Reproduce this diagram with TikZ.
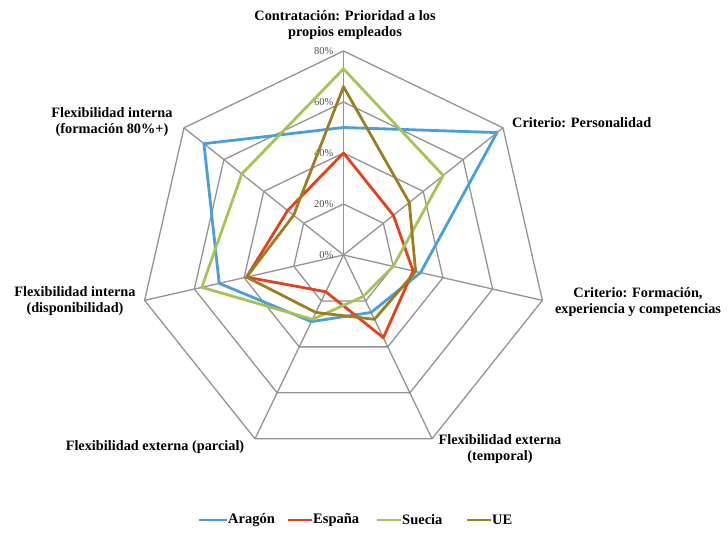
\documentclass[tikz,border=0pt]{standalone}
\usepackage{fontspec}
\setmainfont{Liberation Serif}
\usepackage{tikz}
\usepackage{xcolor}

\definecolor{colAragon}{HTML}{4A9FDB}
\definecolor{colEspana}{HTML}{E2431E}
\definecolor{colSuecia}{HTML}{A8C257}
\definecolor{colUE}{HTML}{9C7E22}

\begin{document}
\begin{tikzpicture}[x=1pt,y=1pt,
    grid/.style={draw=gray!85, line width=1.3pt},
    serie/.style={line width=2.8pt, line join=round},
    lbl/.style={font=\fontsize{14.3}{16}\selectfont\bfseries, align=center, inner sep=0pt},
    pct/.style={font=\fontsize{10.5}{12}\selectfont, text=gray!60!black, anchor=east, inner sep=0pt},
    legtxt/.style={font=\fontsize{14.5}{16}\selectfont\bfseries, anchor=west, inner sep=1pt}]
  \useasboundingbox (0,0) rectangle (728,533);
  \begin{scope}[shift={(343.5,278)}]
    % grid
    \foreach \r in {1,...,4}
      \draw[grid] (90:\r*51) \foreach \k in {1,...,6} { -- ({90-\k*360/7}:\r*51) } -- cycle;
    \foreach \k in {0,...,6}
      \draw[grid] (0,0) -- ({90-\k*360/7}:204);
    \foreach \p in {0,20,40,60,80}
      \node[pct] (p\p) at (-10,\p*2.55) {\p\%};
    % series
    \foreach \v [count=\i] in {50,77,31,25,29,50,70}
      \coordinate (A\i) at ({90-(\i-1)*360/7}:\v*2.55);
    \foreach \v [count=\i] in {40,25,28,36,16,39,28}
      \coordinate (E\i) at ({90-(\i-1)*360/7}:\v*2.55);
    \foreach \v [count=\i] in {73,50,20,18,28,57,51}
      \coordinate (S\i) at ({90-(\i-1)*360/7}:\v*2.55);
    \foreach \v [count=\i] in {66,33,29,28,25,39,25}
      \coordinate (U\i) at ({90-(\i-1)*360/7}:\v*2.55);
    \draw[serie,colAragon] (A1)--(A2)--(A3)--(A4)--(A5)--(A6)--(A7)--cycle;
    \draw[serie,colEspana] (E1)--(E2)--(E3)--(E4)--(E5)--(E6)--(E7)--cycle;
    \draw[serie,colSuecia] (S1)--(S2)--(S3)--(S4)--(S5)--(S6)--(S7)--cycle;
    \draw[serie,colUE] (U1)--(U2)--(U3)--(U4)--(U5)--(U6)--(U7)--cycle;
  \end{scope}
  % axis labels
  \node[lbl] (lContr) at (345,508) {Contratación: Prioridad a los\\propios empleados};
  \node[lbl, anchor=west] (lPers) at (512,410) {Criterio: Personalidad};
  \node[lbl] (lForm) at (638,231) {Criterio: Formación,\\experiencia y competencias};
  \node[lbl] (lTemp) at (500,84) {Flexibilidad externa\\(temporal)};
  \node[lbl] (lParc) at (155,86) {Flexibilidad externa (parcial)};
  \node[lbl] (lDisp) at (75,232) {Flexibilidad interna\\(disponibilidad)};
  \node[lbl] (lF80) at (112,411) {Flexibilidad interna\\(formación 80\%+)};
  % legend
  \node[legtxt] (legA) at (227,13) {Aragón};
  \node[legtxt] (legE) at (312,13) {España};
  \node[legtxt] (legS) at (401,13) {Suecia};
  \node[legtxt] (legU) at (491,13) {UE};
  \draw[serie,colAragon] (legA.west) -- ++(-28,0);
  \draw[serie,colEspana] (legE.west) -- ++(-24,0);
  \draw[serie,colSuecia] (legS.west) -- ++(-24,0);
  \draw[serie,colUE] (legU.west) -- ++(-24,0);
\end{tikzpicture}
\end{document}
